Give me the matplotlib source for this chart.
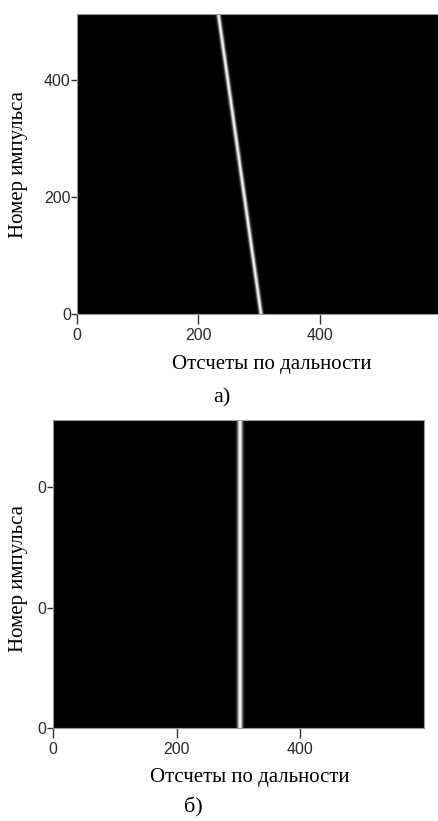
"""
Range-pulse images: a) target drifting in range, b) after compensation
"""

import numpy as np
import matplotlib.pyplot as plt

# -----------------------------
# Data
# -----------------------------
N_PULSES = 512
N_RANGE = 600

# range bin of the bright stripe at first and last pulse
stripe_a_start = 302
stripe_a_end = 232
stripe_b_start = 302
stripe_b_end = 302

# stripe half-width in range bins
stripe_a_width = 2.3
stripe_b_width = 3.0

x_ticks = [0, 200, 400]
y_ticks = [0, 200, 400]
y_labels_a = ["0", "200", "400"]
y_labels_b = ["0", "0", "0"]   # left digits are lost in the original scan

XLABEL = "Отсчеты по дальности"
YLABEL = "Номер импульса"


def stripe_image(start, end, width):
    pulses = np.arange(N_PULSES)[:, None]
    bins = np.arange(N_RANGE)[None, :]
    centre = start + (end - start) * pulses / (N_PULSES - 1)
    return np.exp(-0.5 * ((bins - centre) / width) ** 2)


fig = plt.figure(figsize=(4.38, 8.21), dpi=100)

tick_font = dict(family="Liberation Sans", size=11.5, color="#2a2a2a")
label_font = dict(family="Liberation Serif", size=15)

panels = [
    ([0.1758, 0.6175, 0.832, 0.3654], stripe_image(stripe_a_start, stripe_a_end, stripe_a_width), y_labels_a),
    ([0.121, 0.1133, 0.847, 0.375], stripe_image(stripe_b_start, stripe_b_end, stripe_b_width), y_labels_b),
]

axes = []
for rect, img, ylabs in panels:
    ax = fig.add_axes(rect)
    ax.imshow(img, cmap="gray", origin="lower", aspect="auto",
              extent=[0, N_RANGE, 0, N_PULSES], vmin=0, vmax=1,
              interpolation="bilinear")
    ax.set_xlim(0, N_RANGE)
    ax.set_ylim(0, N_PULSES)
    ax.set_xticks(x_ticks)
    ax.set_yticks(y_ticks)
    ax.set_xticklabels([str(t) for t in x_ticks], **tick_font)
    ax.set_yticklabels(ylabs, **tick_font)
    ax.tick_params(axis="x", direction="out", length=7, width=1.0, color="#333333", pad=3)
    ax.tick_params(axis="y", direction="out", length=4, width=1.0, color="#333333", pad=0.5)
    for s in ax.spines.values():
        s.set_color("#999999")
        s.set_linewidth(0.8)
    axes.append(ax)

# axis labels and captions, placed as in the original layout
fig.text(272 / 438, 1 - 364 / 821, XLABEL, ha="center", va="center", **label_font)
fig.text(19 / 438, 1 - 164 / 821, YLABEL, ha="center", va="center", rotation=90, **label_font)
fig.text(222 / 438, 1 - 398 / 821, "а)", ha="center", va="center",
         family="Liberation Serif", size=16)

fig.text(250 / 438, 1 - 777 / 821, XLABEL, ha="center", va="center", **label_font)
fig.text(19 / 438, 1 - 578 / 821, YLABEL, ha="center", va="center", rotation=90, **label_font)
fig.text(193 / 438, 1 - 807 / 821, "б)", ha="center", va="center",
         family="Liberation Serif", size=16)

fig.savefig("out.png", dpi=100)
